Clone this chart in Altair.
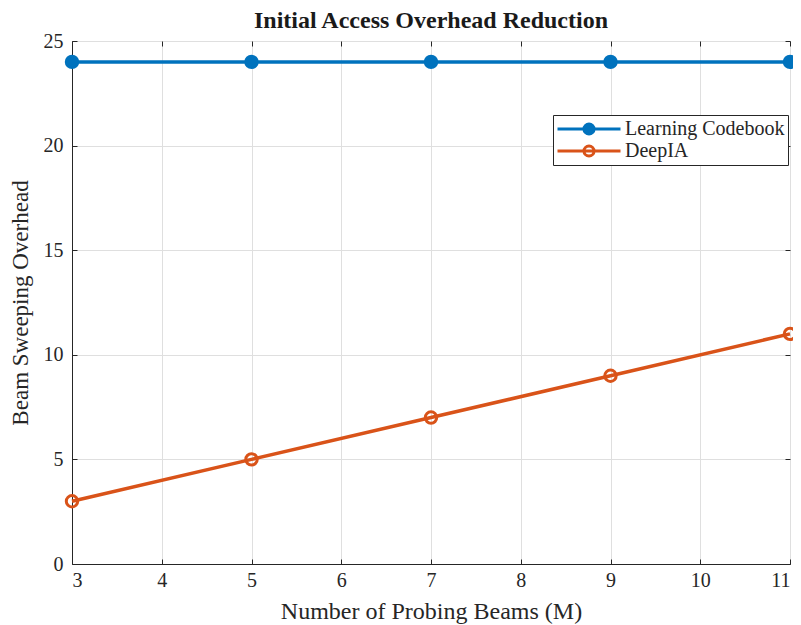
import altair as alt
import pandas as pd

beams = [3, 5, 7, 9, 11]
learning_codebook = [24, 24, 24, 24, 24]
deepia = [3, 5, 7, 9, 11]
series = ["Learning Codebook", "DeepIA"]
colors = ["#0072BD", "#D95319"]
fills = ["#0072BD", "transparent"]
x_ticks = [3, 4, 5, 6, 7, 8, 9, 10, 11]
y_ticks = [0, 5, 10, 15, 20, 25]

df = pd.DataFrame({
    "M": beams * 2,
    "overhead": learning_codebook + deepia,
    "series": [series[0]] * len(beams) + [series[1]] * len(beams),
})

W, H = 718, 523
FONT = "Liberation Serif"
TXT = "#262626"

xs = alt.Scale(domain=[3, 11], nice=False, zero=False)
ys = alt.Scale(domain=[0, 25], nice=False)
stroke_scale = alt.Scale(domain=series, range=colors)
fill_scale = alt.Scale(domain=series, range=fills)

sym = "M-1,0H1M-0.16,0A0.16,0.16,0,1,0,0.16,0A0.16,0.16,0,1,0,-0.16,0"
leg = alt.Legend(
    title=None, orient="none", legendX=481, legendY=74,
    symbolType=sym, symbolSize=3969, symbolStrokeWidth=3,
    clipHeight=22, rowPadding=0, padding=3, labelOffset=3,
    labelFont=FONT, labelFontSize=20, labelColor=TXT,
    strokeColor=TXT, fillColor="white", cornerRadius=0,
)

tick_axis = dict(labels=False, domain=False, grid=False, ticks=True, tickSize=5,
                 tickColor=TXT, tickWidth=1, title=None)

lines = alt.Chart(df).mark_line(strokeWidth=3.5).encode(
    x=alt.X("M:Q", scale=xs, axis=alt.Axis(
        values=x_ticks, title="Number of Probing Beams (M)", grid=True, ticks=False,
        domainColor=TXT, labelFont=FONT, labelFontSize=20, labelColor=TXT,
        labelPadding=6, titleFont=FONT, titleFontSize=24, titleFontWeight="normal",
        titleColor=TXT, titlePadding=9, gridColor="#dfdfdf")),
    y=alt.Y("overhead:Q", scale=ys, axis=alt.Axis(
        values=y_ticks, title="Beam Sweeping Overhead", grid=True, ticks=False,
        domainColor=TXT, labelFont=FONT, labelFontSize=20, labelColor=TXT,
        labelPadding=9, titleFont=FONT, titleFontSize=23, titleFontWeight="normal",
        titleColor=TXT, titlePadding=11, gridColor="#dfdfdf")),
    stroke=alt.Stroke("series:N", scale=stroke_scale, legend=leg),
    detail="series:N",
)

points = alt.Chart(df).mark_point(shape="circle", size=130, strokeWidth=3, opacity=1).encode(
    x=alt.X("M:Q", scale=xs, axis=alt.Axis(orient="top", offset=-H, values=x_ticks, **tick_axis)),
    y=alt.Y("overhead:Q", scale=ys, axis=alt.Axis(orient="right", offset=-W, values=y_ticks, **tick_axis)),
    stroke=alt.Stroke("series:N", scale=stroke_scale, legend=leg),
    fill=alt.Fill("series:N", scale=fill_scale, legend=leg),
)

ghost = alt.Chart(df).mark_point(opacity=0).encode(
    x=alt.X("M:Q", scale=xs, axis=alt.Axis(orient="bottom", offset=-H, values=x_ticks, **tick_axis)),
    y=alt.Y("overhead:Q", scale=ys, axis=alt.Axis(orient="left", offset=-W, values=y_ticks, **tick_axis)),
)

chart = alt.layer(lines, points, ghost).resolve_axis(
    x="independent", y="independent"
).properties(
    width=W, height=H,
    title=alt.TitleParams("Initial Access Overhead Reduction", font=FONT, fontSize=24,
                          fontWeight="bold", color="#1a1a1a", anchor="middle", offset=-2),
    autosize=alt.AutoSizeParams(type="none"),
    padding={"left": 64, "top": 33, "right": 3, "bottom": 64},
).configure_view(stroke=TXT, strokeWidth=1).configure(background="white")

chart.save("out.html", embed_options={"renderer": "svg", "actions": False})
